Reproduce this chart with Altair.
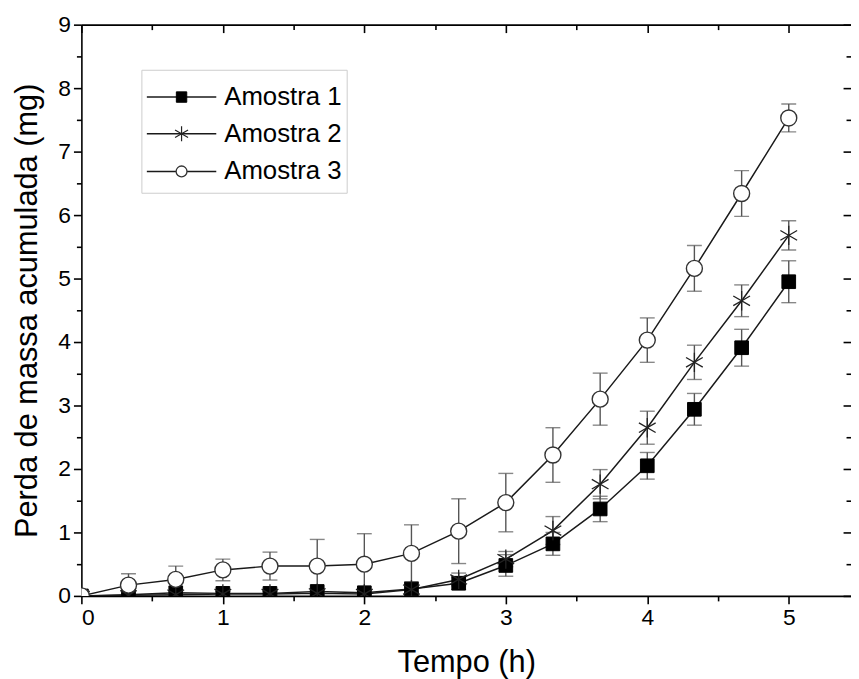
import altair as alt
import pandas as pd

# ---------------- data ----------------
time_h = [0, 0.333, 0.667, 1, 1.333, 1.667, 2, 2.333, 2.667, 3, 3.333, 3.667, 4, 4.333, 4.667, 5]

amostra1 = [0, 0.02, 0.05, 0.04, 0.04, 0.07, 0.05, 0.11, 0.20, 0.48, 0.82, 1.37, 2.05, 2.94, 3.91, 4.95]
amostra1_err = [0, 0.02, 0.03, 0.03, 0.03, 0.04, 0.03, 0.05, 0.10, 0.17, 0.18, 0.20, 0.21, 0.25, 0.29, 0.33]

amostra2 = [0, 0.01, 0.02, 0.03, 0.03, 0.04, 0.03, 0.10, 0.26, 0.58, 1.03, 1.76, 2.65, 3.68, 4.65, 5.68]
amostra2_err = [0, 0.02, 0.02, 0.04, 0.05, 0.04, 0.03, 0.06, 0.10, 0.12, 0.22, 0.23, 0.26, 0.27, 0.25, 0.23]

amostra3 = [0, 0.17, 0.26, 0.41, 0.47, 0.47, 0.50, 0.67, 1.02, 1.47, 2.22, 3.10, 4.03, 5.16, 6.34, 7.53]
amostra3_err = [0, 0.18, 0.21, 0.17, 0.22, 0.42, 0.48, 0.45, 0.51, 0.46, 0.43, 0.41, 0.35, 0.36, 0.36, 0.22]

series_names = ["Amostra 1", "Amostra 2", "Amostra 3"]
x_tick_values = [0, 0.5, 1, 1.5, 2, 2.5, 3, 3.5, 4, 4.5, 5]
y_tick_values = [0, 0.5, 1, 1.5, 2, 2.5, 3, 3.5, 4, 4.5, 5, 5.5, 6, 6.5, 7, 7.5, 8, 8.5, 9]

rows = []
for name, vals, errs in zip(series_names,
                            [amostra1, amostra2, amostra3],
                            [amostra1_err, amostra2_err, amostra3_err]):
    for t, v, e in zip(time_h, vals, errs):
        rows.append({"serie": name, "t": t, "v": v, "lo": v - e, "hi": v + e})
df = pd.DataFrame(rows)

FONT = "Liberation Sans"
ASTERISK = "M0,-1L0,1M-0.866,-0.5L0.866,0.5M-0.866,0.5L0.866,-0.5"

xscale = alt.Scale(domain=[0, 5.44], nice=False, zero=False)
yscale = alt.Scale(domain=[0, 9], nice=False, zero=False)

major = "datum.value % 1 === 0"
label_expr = f"{major} ? format(datum.value, 'd') : ''"
common_axis = dict(
    domainColor="black", domainWidth=1.6, tickColor="black", tickWidth=1.6,
    grid=False, labelFont=FONT, labelFontSize=23, labelColor="black",
    titleFont=FONT, titleFontSize=31, titleFontWeight="normal", titleColor="black",
)

x_bottom = alt.Axis(values=x_tick_values, title="Tempo (h)", orient="bottom",
                    labelExpr=label_expr,
                    tickSize=alt.ExprRef(f"{major} ? 8 : 5"),
                    labelPadding=3, titlePadding=18, **common_axis)
y_left = alt.Axis(values=y_tick_values, title="Perda de massa acumulada (mg)", orient="left",
                  labelExpr=label_expr,
                  tickSize=alt.ExprRef(f"{major} ? 8 : 5"),
                  labelPadding=3, titlePadding=14, **common_axis)
x_top = alt.Axis(values=x_tick_values, title=None, orient="top", labels=False,
                 tickSize=alt.ExprRef(f"{major} ? -8 : -5"),
                 domainColor="black", domainWidth=1.6, tickColor="black", tickWidth=1.6, grid=False)
y_right = alt.Axis(values=y_tick_values, title=None, orient="right", labels=False, domain=False,
                   tickSize=alt.ExprRef(f"{major} ? -8 : -5"),
                   tickColor="black", tickWidth=1.6, grid=False)

base = alt.Chart(df)

# main line layer carries bottom / left axes
lines = base.mark_line(color="#1a1a1a", strokeWidth=1.5, clip=True).encode(
    x=alt.X("t:Q", scale=xscale, axis=x_bottom),
    y=alt.Y("v:Q", scale=yscale, axis=y_left),
    detail="serie:N",
)

# error bars carry top / right axes
err_rule = base.mark_rule(color="#555555", strokeWidth=1.4, clip=True).encode(
    x=alt.X("t:Q", scale=xscale, axis=x_top),
    y=alt.Y("lo:Q", scale=yscale, axis=y_right),
    y2="hi:Q",
)
cap_hi = base.mark_tick(orient="horizontal", size=15, thickness=1.4, color="#555555", clip=True).encode(
    x=alt.X("t:Q", scale=xscale, axis=None),
    y=alt.Y("hi:Q", scale=yscale, axis=None),
)
cap_lo = base.mark_tick(orient="horizontal", size=15, thickness=1.4, color="#555555", clip=True).encode(
    x=alt.X("t:Q", scale=xscale, axis=None),
    y=alt.Y("lo:Q", scale=yscale, axis=None),
)

def points(name, **style):
    return base.transform_filter(alt.datum.serie == name).mark_point(clip=True, opacity=1, **style).encode(
        x=alt.X("t:Q", scale=xscale, axis=None),
        y=alt.Y("v:Q", scale=yscale, axis=None),
    )

p1 = points("Amostra 1", shape="square", size=190, filled=True, fill="black", stroke="black", strokeWidth=1)
p2 = points("Amostra 2", shape=ASTERISK, size=380, filled=False, stroke="#222222", strokeWidth=1.3)
p3 = points("Amostra 3", shape="circle", size=260, filled=True, fill="white", stroke="#333333", strokeWidth=1.4)

# ---------------- manual legend ----------------
leg_df = pd.DataFrame({"serie": series_names})
leg_box = alt.Chart(leg_df).transform_filter(alt.datum.serie == "Amostra 1").mark_rect(
    fill="white", stroke="#cccccc", strokeWidth=1).encode(
    x=alt.value(61), x2=alt.value(268), y=alt.value(46), y2=alt.value(170))

legend_layers = [leg_box]
row_y = [73, 110, 148]
leg_styles = [
    dict(shape="square", size=110, filled=True, fill="black", stroke="black", strokeWidth=1),
    dict(shape=ASTERISK, size=230, filled=False, stroke="#222222", strokeWidth=1.2),
    dict(shape="circle", size=120, filled=True, fill="white", stroke="#333333", strokeWidth=1.3),
]
for name, yy, st in zip(series_names, row_y, leg_styles):
    src = alt.Chart(leg_df).transform_filter(alt.datum.serie == name)
    legend_layers.append(src.mark_rule(color="#1a1a1a", strokeWidth=1.5).encode(
        x=alt.value(66), x2=alt.value(136), y=alt.value(yy)))
    legend_layers.append(src.mark_point(opacity=1, **st).encode(x=alt.value(101), y=alt.value(yy)))
    legend_layers.append(src.mark_text(font=FONT, fontSize=26, align="left", baseline="middle",
                                       color="black").encode(
        x=alt.value(144), y=alt.value(yy), text="serie:N"))

chart = alt.layer(lines, err_rule, cap_hi, cap_lo, p1, p2, p3, *legend_layers).resolve_axis(
    x="independent", y="independent"
).properties(
    width=776, height=576,
    autosize=alt.AutoSizeParams(type="none"),
    padding={"left": 74, "top": 14, "right": 0, "bottom": 84},
).configure_view(stroke=None)

chart.save("out.html", embed_options={"renderer": "svg", "actions": False})
